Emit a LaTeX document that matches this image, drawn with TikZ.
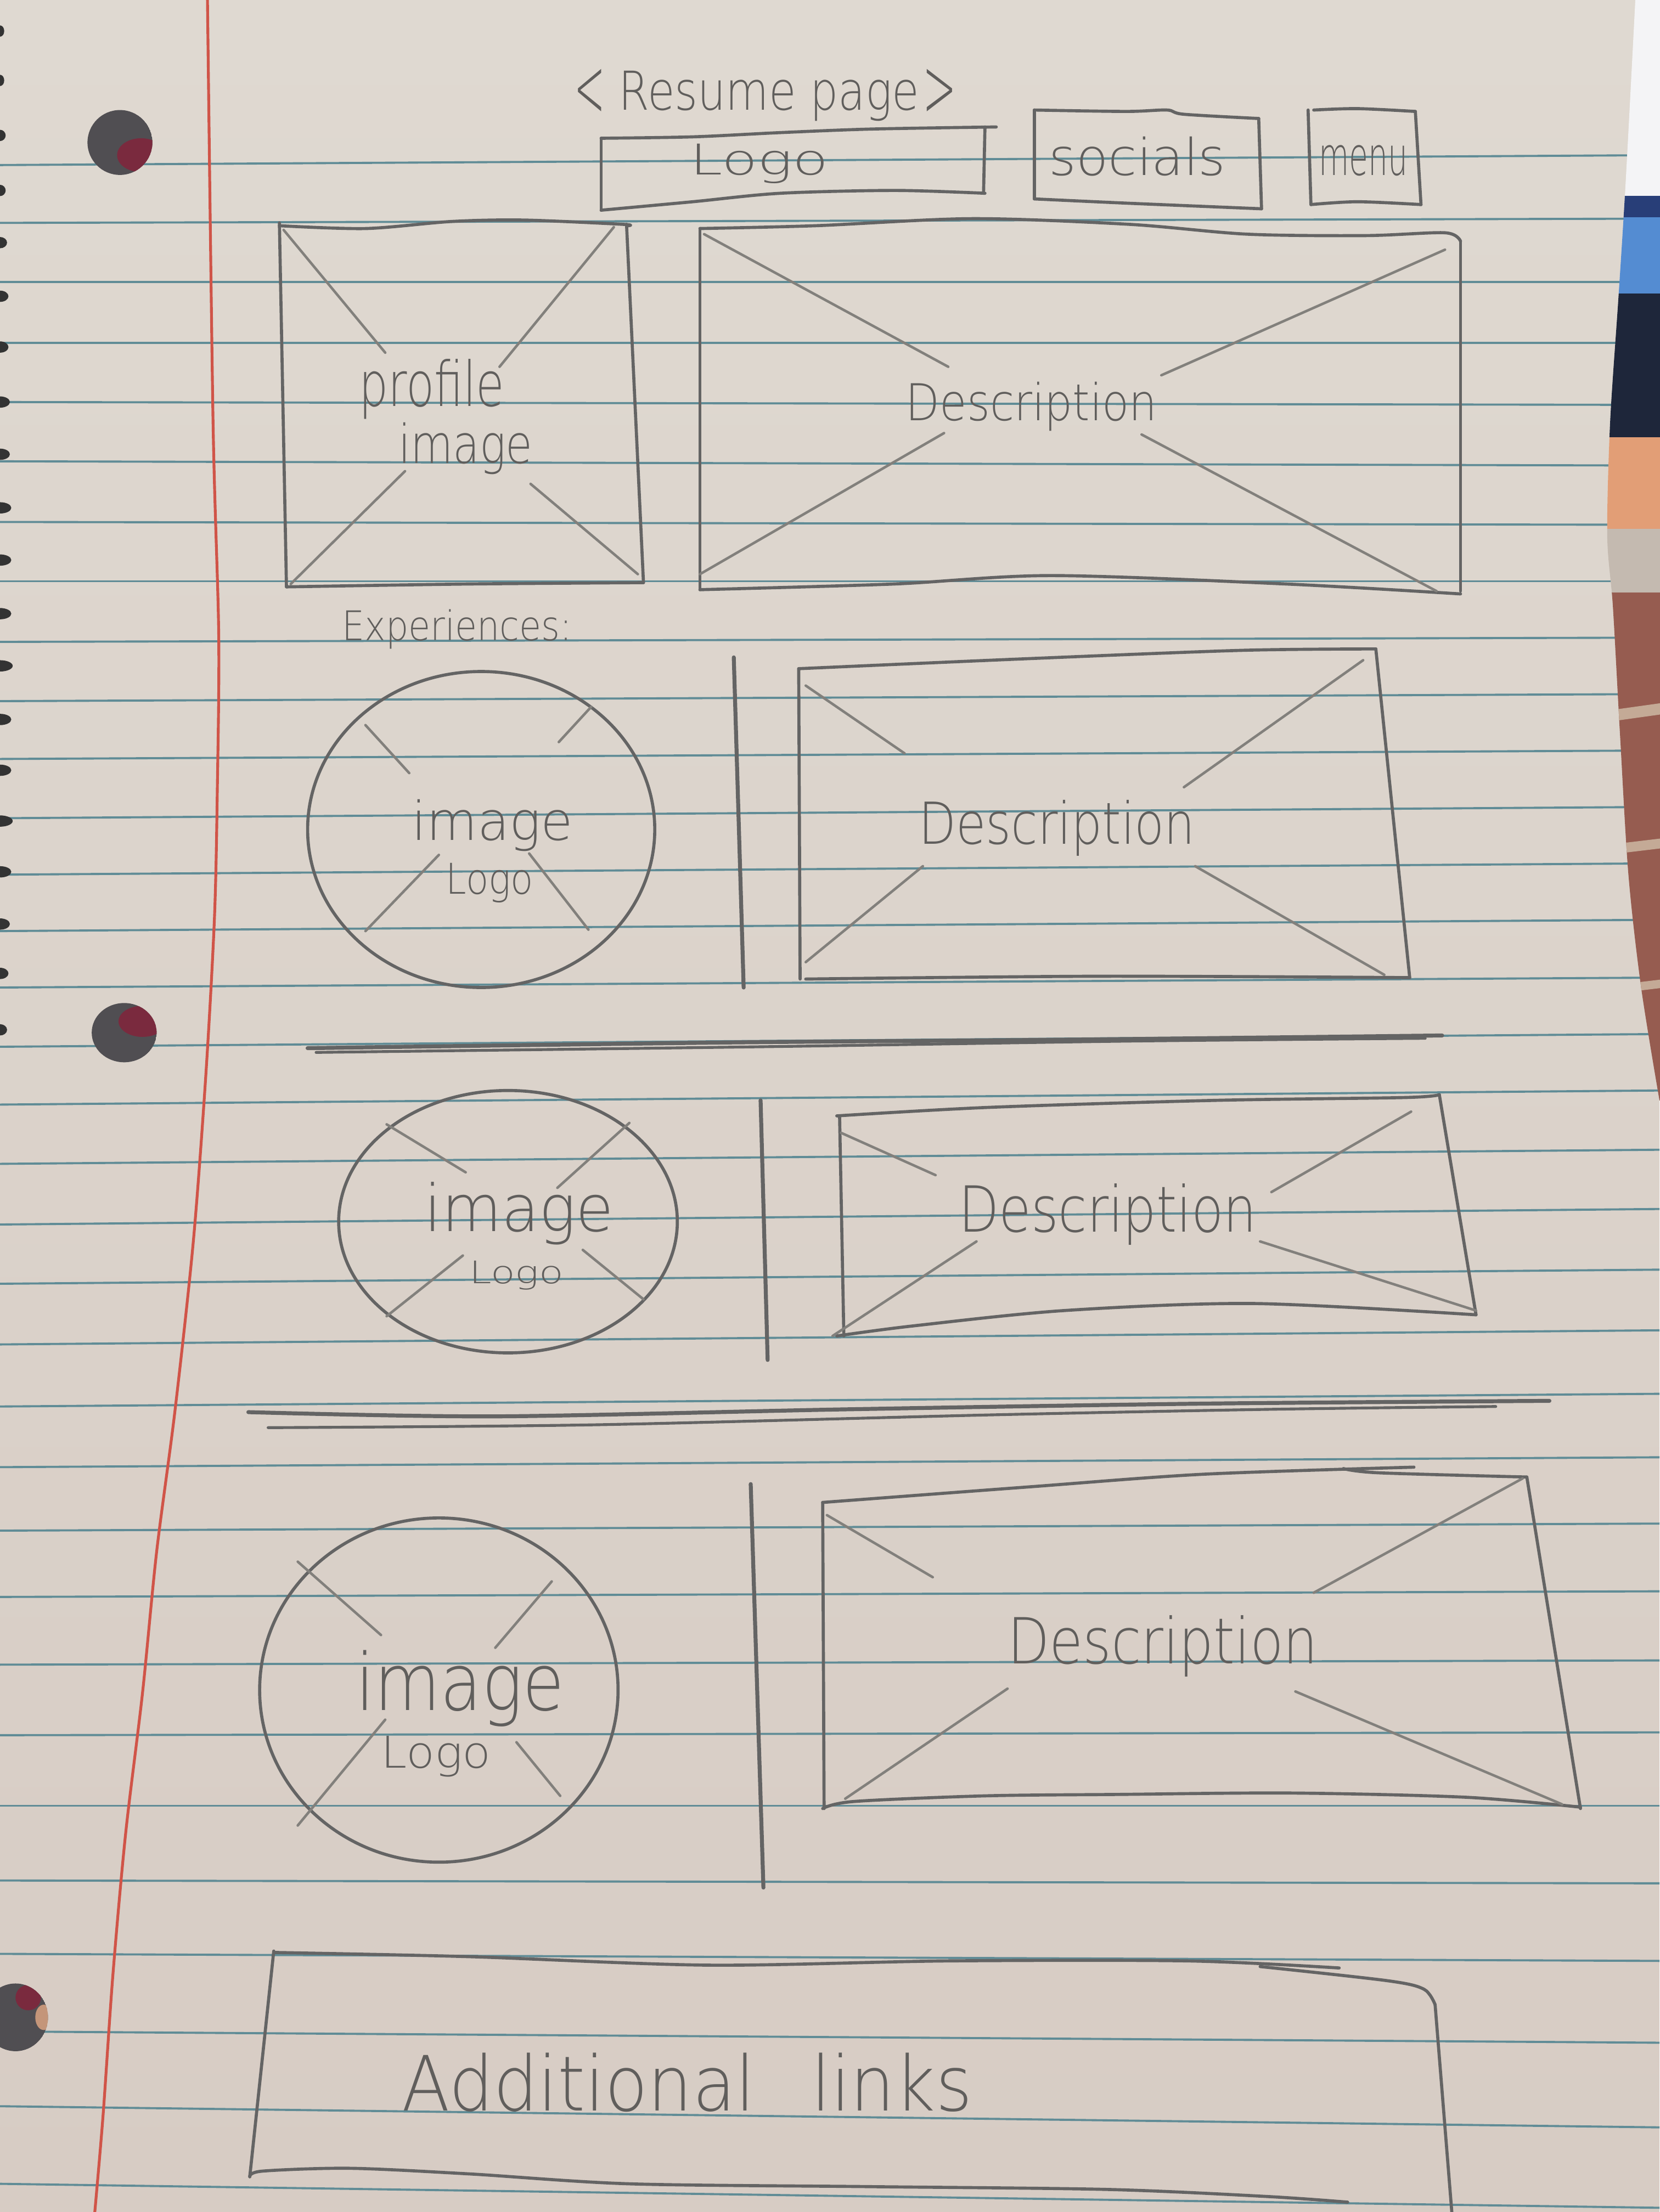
\documentclass[tikz,border=0pt]{standalone}
\usepackage{fontspec}
\setmainfont{Liberation Sans}
\newfontfamily\handfont{DejaVu Sans ExtraLight}
\usepackage{graphicx}
\definecolor{paperTop}{RGB}{223,217,209}
\definecolor{paperBot}{RGB}{215,204,196}
\definecolor{rulecol}{RGB}{96,140,150}
\definecolor{margincol}{RGB}{208,84,72}
\definecolor{pencil}{RGB}{100,100,100}
\definecolor{pencilsoft}{RGB}{130,128,124}
\definecolor{pencilink}{RGB}{96,94,92}
\definecolor{holeshade}{RGB}{80,78,82}
\definecolor{holered}{RGB}{122,42,62}
\definecolor{deskwhite}{RGB}{244,244,246}
\definecolor{deskdarkblue}{RGB}{40,62,120}
\definecolor{deskblue}{RGB}{84,140,210}
\definecolor{desknavy}{RGB}{30,38,58}
\definecolor{deskpeach}{RGB}{226,158,118}
\definecolor{deskgray}{RGB}{196,186,176}
\definecolor{deskbrick}{RGB}{150,92,80}
\definecolor{deskmortar}{RGB}{196,170,150}
% handwritten-looking label: fixed width, natural height
\newcommand\hw[3]{\resizebox{#1pt}{\height}{\handfont\fontsize{#2}{#2}\selectfont #3}}
\tikzset{
  outline/.style={draw=pencil, line width=2.2pt, line cap=round, line join=round},
  cross/.style={draw=pencilsoft, line width=1.8pt, line cap=round},
  rulestroke/.style={draw=rulecol, line width=1.5pt},
  divider/.style={draw=pencil, line width=2.8pt, line cap=round},
  hand/.style={text=pencilink, inner sep=0pt, anchor=center},
}
\begin{document}
\begin{tikzpicture}[x=1pt,y=-1pt]
\useasboundingbox (0,0) rectangle (1176,1568);

% ---- notebook paper ----
\shade[top color=paperTop, bottom color=paperBot] (0,0) rectangle (1176,1568);
\foreach \a/\b in {117/110,158/155,200/200,243/243,285/287,327/330,370/372,412/412,
  455/452,497/492,538/532,580/572,620/612,660/652,700/693,742/733,783/773,825/815,
  868/857,910/900,953/943,997/988,1040/1033,1085/1080,1132/1128,1180/1177,1230/1228,
  1280/1280,1333/1335,1385/1390,1440/1448,1493/1508,1548/1565}
  \draw[rulestroke] (0,\a) -- (1176,\b);
\draw[margincol, line width=2pt] plot[smooth] coordinates {(147,-2) (151,300) (155,450)
  (154,560) (152,650) (146,760) (137,880) (124,1000) (111,1100) (101,1200) (89,1300)
  (80,1400) (73,1500) (67,1570)};

% punched holes
\begin{scope}
  \clip (85,101) circle[radius=23];
  \fill[holeshade] (85,101) circle[radius=23];
  \fill[holered] (100,110) ellipse[x radius=17, y radius=12];
\end{scope}
\begin{scope}
  \clip (88,732) ellipse[x radius=23, y radius=21];
  \fill[holeshade] (88,732) ellipse[x radius=23, y radius=21];
  \fill[holered] (101,724) ellipse[x radius=17, y radius=11];
\end{scope}
\begin{scope}
  \clip (11,1430) ellipse[x radius=23, y radius=24];
  \fill[holeshade] (11,1430) ellipse[x radius=23, y radius=24];
  \fill[holered] (20,1416) ellipse[x radius=9, y radius=9];
  \fill[deskpeach!70!gray] (31,1430) ellipse[x radius=6, y radius=9];
\end{scope}

% spiral binding
\foreach \yy/\rx in {22/3,57/3,96/4,135/4,172/5,210/6,246/6,285/7,322/7,360/8,397/8,
  435/8,472/9,510/8,546/8,582/9,618/8,655/7,690/6,730/5}
  \fill[black!80] (0,\yy) ellipse[x radius=\rx, y radius=4];

% desk and screen beyond the page edge
\begin{scope}
  \clip plot[smooth] coordinates {(1159,-2) (1152,130) (1147,210) (1141,300) (1139,380)
    (1143,430) (1148,520) (1154,620) (1163,700) (1176,780)} -- (1180,782) -- (1180,-2) -- cycle;
  \fill[deskwhite] (1130,-2) rectangle (1180,139);
  \fill[deskdarkblue] (1130,139) rectangle (1180,154);
  \fill[deskblue] (1130,154) rectangle (1180,208);
  \fill[desknavy] (1130,208) rectangle (1180,310);
  \fill[deskpeach] (1130,310) rectangle (1180,375);
  \fill[deskgray] (1130,375) rectangle (1180,420);
  \fill[deskbrick] (1130,420) rectangle (1180,790);
  \fill[deskmortar] (1130,505) -- (1180,498) -- (1180,506) -- (1130,513) -- cycle;
  \fill[deskmortar] (1130,600) -- (1180,594) -- (1180,601) -- (1130,607) -- cycle;
  \fill[deskmortar] (1130,700) -- (1180,694) -- (1180,700) -- (1130,706) -- cycle;
\end{scope}

% ---- header ----
\node[hand] (lbr) at (418,66) {\resizebox{22pt}{34pt}{\handfont\fontsize{38}{38}\selectfont\textless}};
\node[hand] (title) at (545,68) {\hw{213}{38}{Resume page}};
\node[hand] (rbr) at (666,66) {\resizebox{24pt}{34pt}{\handfont\fontsize{38}{38}\selectfont\textgreater}};

\draw[outline] plot[smooth] coordinates {(426,98) (491,97) (553,94) (617,91.5) (706,90)};
\draw[outline] (698,90) -- (697,137);
\draw[outline] plot[smooth] coordinates {(698,137) (634,135) (553,137) (491,143) (426,149)};
\draw[outline] (426,149) -- (426,98);
\node[hand] (logo) at (538,116) {\hw{98}{30}{Logo}};

\draw[outline] plot[smooth] coordinates {(733,78) (798,79) (827,78) (839,81) (892,84)};
\draw[outline] (892,84) -- (894,148);
\draw[outline] plot[smooth] coordinates {(894,148) (798,144) (733,141)};
\draw[outline] (733,141) -- (733,78);
\node[hand] (socials) at (806,111) {\hw{125}{36}{socials}};

\draw[outline] plot[smooth] coordinates {(931,78) (962,77) (1003,79)};
\draw[outline] (1003,79) -- (1007,145);
\draw[outline] plot[smooth] coordinates {(1007,145) (962,143) (929,145)};
\draw[outline] (929,145) -- (927,78);
\node[hand] (menu) at (966,114) {\hw{63}{38}{menu}};

% ---- profile row ----
\draw[outline] plot[smooth] coordinates {(198,160) (259,162) (320,157) (371,156) (441,159) (445,160)};
\draw[outline] (444,159) -- (456,413);
\draw[outline] plot[smooth] coordinates {(456,413) (330,414) (203,416)};
\draw[outline] (203,416) -- (198,158);
\draw[cross] (201,163) -- (273,250);
\draw[cross] (435,161) -- (354,260);
\draw[cross] (287,334) -- (206,414);
\draw[cross] (376,343) -- (452,407);
\node[hand] (profile) at (306,276) {\hw{103}{44}{profile}};
\node[hand] (profimg) at (330,318) {\hw{95}{38}{image}};

\draw[outline] plot[smooth] coordinates {(496,162) (578,160) (689,155) (800,159) (884,166) (968,167) (1024,165) (1035,171)};
\draw[outline] (1035,171) -- (1035,419);
\draw[outline] plot[smooth] coordinates {(1035,421) (912,414) (745,408) (633,414) (496,418)};
\draw[outline] (496,418) -- (496,162);
\draw[cross] (499,166) -- (672,260);
\draw[cross] (1024,177) -- (823,266);
\draw[cross] (496,407) -- (669,307);
\draw[cross] (809,308) -- (1018,419);
\node[hand] (desc0) at (731,288) {\hw{178}{36}{Description}};

% ---- experiences ----
\node[hand] (exper) at (324,446) {\hw{163}{29}{Experiences:}};

% first entry
\draw[outline] (341,588) ellipse[x radius=123, y radius=112];
\draw[cross] (259,514) -- (290,548);
\draw[cross] (419,501) -- (396,526);
\draw[cross] (311,606) -- (259,660);
\draw[cross] (375,605) -- (417,659);
\node[hand] (img1) at (349,585) {\hw{114}{38}{image}};
\node[hand] (logo1) at (347,626) {\hw{62}{30}{Logo}};
\draw[divider] (520,466) -- (527,700);
\draw[outline] plot[smooth] coordinates {(566,474) (726,467) (880,461) (975,460)};
\draw[outline] (975,460) -- (999,693);
\draw[outline] plot[smooth] coordinates {(999,693) (780,692) (571,694)};
\draw[outline] (567,694) -- (566,474);
\draw[cross] (571,486) -- (641,534);
\draw[cross] (966,468) -- (839,558);
\draw[cross] (654,614) -- (571,682);
\draw[cross] (847,614) -- (981,691);
\node[hand] (desc1) at (749,587) {\hw{196}{41}{Description}};

\draw[divider] plot[smooth] coordinates {(218,743) (513,739) (754,737) (1022,734)};
\draw[divider, line width=2pt] plot[smooth] coordinates {(224,746) (539,742) (800,738) (1010,736)};

% second entry
\draw[outline] (360,866) ellipse[x radius=120, y radius=93];
\draw[cross] (274,797) -- (330,831);
\draw[cross] (446,796) -- (395,842);
\draw[cross] (328,890) -- (274,933);
\draw[cross] (413,886) -- (456,921);
\node[hand] (img2) at (368,860) {\hw{134}{46}{image}};
\node[hand] (logo2) at (366,904) {\hw{67}{22}{Logo}};
\draw[divider] (539,780) -- (544,964);
\draw[outline] plot[smooth] coordinates {(593,791) (700,785) (861,780) (995,778) (1020,776)};
\draw[outline] (1020,776) -- (1046,932);
\draw[outline] plot[smooth] coordinates {(1046,932) (888,924) (754,929) (646,940) (593,947)};
\draw[outline] (598,947) -- (595,792);
\draw[cross] (596,803) -- (663,833);
\draw[cross] (1000,788) -- (901,845);
\draw[cross] (692,880) -- (590,947);
\draw[cross] (893,880) -- (1046,929);
\node[hand] (desc2) at (785,861) {\hw{211}{45}{Description}};

\draw[divider] plot[smooth] coordinates {(176,1001) (350,1004) (600,999) (850,995) (1098,993)};
\draw[divider, line width=2pt] plot[smooth] coordinates {(190,1012) (420,1010) (700,1003) (900,999) (1060,997)};

% third entry
\draw[outline] (311,1198) ellipse[x radius=127, y radius=122];
\draw[cross] (211,1107) -- (270,1159);
\draw[cross] (391,1121) -- (351,1168);
\draw[cross] (273,1219) -- (211,1294);
\draw[cross] (366,1235) -- (397,1273);
\node[hand] (img3) at (326,1197) {\hw{148}{56}{image}};
\node[hand] (logo3) at (309,1245) {\hw{78}{31}{Logo}};
\draw[divider] (532,1052) -- (541,1338);
\draw[outline] plot[smooth] coordinates {(583,1065) (729,1054) (853,1045) (1002,1040)};
\draw[outline] plot[smooth] coordinates {(952,1041) (977,1044) (1082,1047)};
\draw[outline] (1082,1047) -- (1120,1282);
\draw[outline] plot[smooth] coordinates {(1120,1281) (1039,1274) (915,1271) (791,1272) (698,1273) (605,1277) (583,1282)};
\draw[outline] (584,1282) -- (583,1065);
\draw[cross] (586,1074) -- (661,1118);
\draw[cross] (1079,1048) -- (931,1129);
\draw[cross] (714,1197) -- (599,1275);
\draw[cross] (918,1199) -- (1107,1279);
\node[hand] (desc3) at (824,1167) {\hw{220}{45}{Description}};

% ---- footer ----
\draw[outline] plot[smooth] coordinates {(194,1384) (333,1387) (502,1393) (672,1390) (842,1390) (949,1395)};
\draw[outline] plot[smooth] coordinates {(893,1394) (983,1404) (1009,1410) (1017,1421)};
\draw[outline] (1017,1421) -- (1029,1570);
\draw[outline] (194,1383) -- (177,1543);
\draw[outline] plot[smooth] coordinates {(177,1543) (186,1539) (248,1537) (333,1541) (446,1548) (616,1550) (785,1552) (898,1557) (955,1561)};
\node[hand] (links) at (487,1476) {\hw{404}{54}{Additional\hspace{0.8em}links}};
\end{tikzpicture}
\end{document}
